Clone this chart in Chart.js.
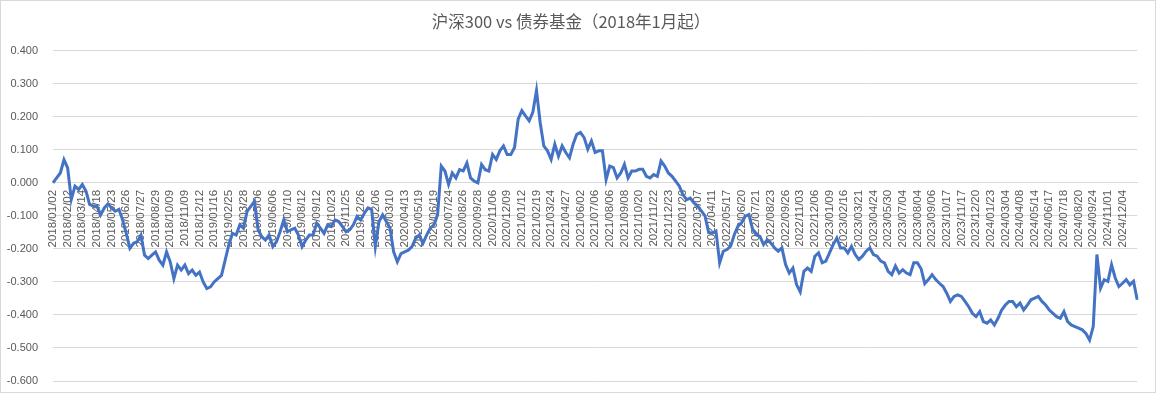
<!DOCTYPE html>
<html>
<head>
<meta charset="utf-8">
<script src="https://cdn.jsdelivr.net/npm/chart.js@4.4.1/dist/chart.umd.min.js"></script>
<style>
    html, body { margin: 0; padding: 0; background: #fff; }
    #wrap { width: 1158px; height: 393px; }
</style>
</head>
<body>
<div id="wrap"><canvas id="spreadChart"></canvas></div>
<script>
// date labels shown on the axis (one every 4 points)
const tickDates = [
    '2018/01/02', '2018/02/02', '2018/03/14', '2018/04/18', '2018/05/23', '2018/06/26', '2018/07/27', '2018/08/29',
    '2018/10/09', '2018/11/09', '2018/12/12', '2019/01/16', '2019/02/25', '2019/03/28', '2019/05/06', '2019/06/06',
    '2019/07/10', '2019/08/12', '2019/09/12', '2019/10/23', '2019/11/25', '2019/12/26', '2020/02/06', '2020/03/10',
    '2020/04/13', '2020/05/19', '2020/06/19', '2020/07/24', '2020/08/26', '2020/09/28', '2020/11/06', '2020/12/09',
    '2021/01/12', '2021/02/19', '2021/03/24', '2021/04/27', '2021/06/02', '2021/07/06', '2021/08/06', '2021/09/08',
    '2021/10/20', '2021/11/22', '2021/12/23', '2022/01/26', '2022/03/07', '2022/04/11', '2022/05/17', '2022/06/20',
    '2022/07/21', '2022/08/23', '2022/09/26', '2022/11/03', '2022/12/06', '2023/01/09', '2023/02/16', '2023/03/21',
    '2023/04/24', '2023/05/30', '2023/07/04', '2023/08/04', '2023/09/06', '2023/10/17', '2023/11/17', '2023/12/20',
    '2024/01/23', '2024/03/04', '2024/04/08', '2024/05/14', '2024/06/17', '2024/07/18', '2024/08/20', '2024/09/24',
    '2024/11/01', '2024/12/04'
];
const pointsPerTick = 4;

// 沪深300 minus bond fund
const spreadValues = [
    0.000, 0.015, 0.030, 0.070, 0.045, -0.050, -0.010, -0.020, -0.005, -0.025,
    -0.065, -0.070, -0.070, -0.097, -0.076, -0.064, -0.076, -0.086, -0.080, -0.112,
    -0.153, -0.198, -0.183, -0.178, -0.158, -0.219, -0.229, -0.219, -0.209, -0.234,
    -0.249, -0.209, -0.239, -0.290, -0.249, -0.264, -0.249, -0.275, -0.264, -0.280,
    -0.270, -0.300, -0.320, -0.315, -0.300, -0.290, -0.280, -0.234, -0.188, -0.153,
    -0.158, -0.127, -0.137, -0.086, -0.071, -0.056, -0.142, -0.163, -0.173, -0.158,
    -0.193, -0.178, -0.148, -0.112, -0.148, -0.142, -0.137, -0.158, -0.193, -0.173,
    -0.158, -0.158, -0.122, -0.137, -0.153, -0.127, -0.132, -0.112, -0.117, -0.132,
    -0.148, -0.142, -0.127, -0.102, -0.112, -0.092, -0.076, -0.081, -0.193, -0.117,
    -0.097, -0.117, -0.137, -0.209, -0.239, -0.214, -0.209, -0.204, -0.193, -0.168,
    -0.158, -0.183, -0.158, -0.137, -0.127, -0.097, 0.051, 0.036, -0.005, 0.030,
    0.015, 0.040, 0.036, 0.060, 0.015, 0.005, 0.000, 0.056, 0.040, 0.036,
    0.086, 0.071, 0.097, 0.112, 0.086, 0.086, 0.107, 0.193, 0.219, 0.203,
    0.188, 0.214, 0.280, 0.183, 0.112, 0.097, 0.071, 0.117, 0.081, 0.112,
    0.092, 0.076, 0.117, 0.147, 0.153, 0.137, 0.102, 0.127, 0.092, 0.097,
    0.097, 0.010, 0.051, 0.046, 0.015, 0.030, 0.056, 0.015, 0.036, 0.036,
    0.041, 0.041, 0.020, 0.015, 0.025, 0.020, 0.066, 0.051, 0.030, 0.020,
    0.005, -0.010, -0.036, -0.051, -0.046, -0.061, -0.071, -0.085, -0.100, -0.150,
    -0.152, -0.146, -0.242, -0.207, -0.202, -0.192, -0.157, -0.131, -0.121, -0.101,
    -0.096, -0.141, -0.157, -0.162, -0.187, -0.172, -0.182, -0.197, -0.207, -0.197,
    -0.247, -0.273, -0.258, -0.308, -0.330, -0.268, -0.258, -0.268, -0.222, -0.212,
    -0.242, -0.237, -0.212, -0.187, -0.167, -0.197, -0.197, -0.212, -0.192, -0.217,
    -0.232, -0.222, -0.207, -0.197, -0.217, -0.222, -0.237, -0.242, -0.268, -0.278,
    -0.252, -0.273, -0.263, -0.273, -0.278, -0.242, -0.242, -0.260, -0.305, -0.293,
    -0.278, -0.293, -0.304, -0.314, -0.334, -0.359, -0.344, -0.339, -0.344, -0.359,
    -0.375, -0.395, -0.405, -0.390, -0.420, -0.425, -0.415, -0.430, -0.410, -0.385,
    -0.370, -0.359, -0.359, -0.375, -0.364, -0.385, -0.370, -0.354, -0.349, -0.344,
    -0.359, -0.370, -0.385, -0.395, -0.405, -0.410, -0.390, -0.420, -0.430, -0.435,
    -0.440, -0.445, -0.456, -0.476, -0.435, -0.217, -0.319, -0.293, -0.298, -0.248,
    -0.288, -0.314, -0.304, -0.293, -0.309, -0.298, -0.354
];

// one category per point, date text only on every 4th
const categories = spreadValues.map((v, i) =>
    i % pointsPerTick === 0 && tickDates[i / pointsPerTick] ? tickDates[i / pointsPerTick] : '');

// light frame around the whole chart, like the spreadsheet export
const framePlugin = {
    id: 'frame',
    beforeDraw(chart) {
        const c = chart.ctx;
        c.save();
        c.fillStyle = '#ffffff';
        c.fillRect(0, 0, chart.width, chart.height);
        c.strokeStyle = '#d9d9d9';
        c.lineWidth = 1;
        c.strokeRect(0.5, 0.5, 1155, chart.height - 1);
        c.restore();
    }
};

const ctx = document.getElementById('spreadChart').getContext('2d');
new Chart(ctx, {
    type: 'line',
    data: {
        labels: categories,
        datasets: [{
            data: spreadValues,
            borderColor: '#4472C4',
            borderWidth: 3,
            pointRadius: 0,
            tension: 0,
            fill: false
        }]
    },
    options: {
        responsive: true,
        maintainAspectRatio: false,
        animation: false,
        layout: { padding: { left: 0, right: 16, top: 0, bottom: 12 } },
        plugins: {
            legend: { display: false },
            tooltip: { enabled: false },
            title: {
                display: true,
                text: '沪深300 vs 债券基金（2018年1月起）',
                color: '#595959',
                font: { family: '"Noto Sans CJK SC", "Noto Sans", sans-serif', size: 16.5, weight: 'normal' },
                padding: { top: 12, bottom: 19 }
            }
        },
        scales: {
            x: {
                position: { y: 0 },
                grid: { display: false, drawTicks: false },
                border: { display: true, color: '#d9d9d9' },
                ticks: {
                    autoSkip: false,
                    minRotation: 90,
                    maxRotation: 90,
                    padding: 7,
                    color: '#595959',
                    font: { family: '"Liberation Sans", Arial, sans-serif', size: 11.5 }
                }
            },
            y: {
                min: -0.6,
                max: 0.4,
                grid: { color: '#d9d9d9', drawTicks: false },
                border: { display: false },
                ticks: {
                    stepSize: 0.1,
                    padding: 15,
                    color: '#595959',
                    font: { family: '"Liberation Sans", Arial, sans-serif', size: 11 },
                    callback: (v) => v.toFixed(3)
                },
                afterFit: (scale) => {
                    scale.width = 53;
                    // the big label gap should not push the plot edges in
                    scale.paddingTop = 7;
                    scale.paddingBottom = 7;
                }
            }
        }
    },
    plugins: [framePlugin]
});
</script>
</body>
</html>
